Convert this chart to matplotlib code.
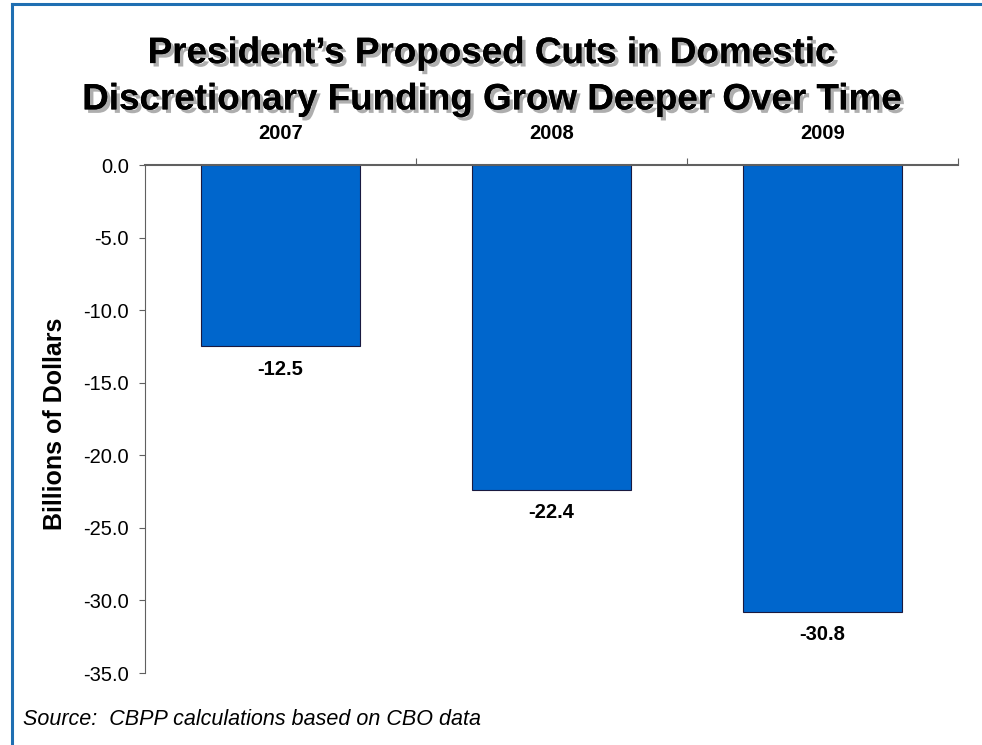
import matplotlib
matplotlib.use("Agg")
import matplotlib.pyplot as plt
import matplotlib.patheffects as pe
from matplotlib.lines import Line2D

plt.rcParams["font.family"] = ["Liberation Sans", "DejaVu Sans"]

# data
years = ["2007", "2008", "2009"]
cuts = [-12.5, -22.4, -30.8]
yticks = [0, -5, -10, -15, -20, -25, -30, -35]

fig = plt.figure(figsize=(9.82, 7.45), dpi=100)
ax = fig.add_axes([0.1477, 0.0966, 0.828, 0.6819])

x = range(len(years))
ax.bar(x, cuts, width=0.587, color="#0066CC", edgecolor="#1a1a40", linewidth=0.8, zorder=2)

for xi, v in zip(x, cuts):
    ax.text(xi, v - 0.9, f"{v:.1f}", ha="center", va="top", fontsize=14.5, fontweight="bold")

ax.set_xlim(-0.5, 2.5)
ax.set_ylim(-35, 0)
ax.set_yticks(yticks)
ax.set_yticklabels([f"{t:.1f}" for t in yticks], fontsize=14.5)
ax.tick_params(axis="y", direction="out", length=4.5, color="#606060", pad=7)

# category labels on top, tick marks between categories
ax.xaxis.tick_top()
ax.set_xticks([0.5, 1.5, 2.5])
ax.set_xticklabels([])
ax.set_xticks(list(x), minor=True)
ax.set_xticklabels(years, minor=True, fontsize=14.5, fontweight="bold")
ax.tick_params(axis="x", which="major", direction="out", length=5, color="#606060")
ax.tick_params(axis="x", which="minor", length=0, pad=16)

for s in ["right", "bottom"]:
    ax.spines[s].set_visible(False)
ax.spines["left"].set_color("#606060")
ax.spines["top"].set_color("#606060")
ax.spines["top"].set_linewidth(1.5)

ax.set_ylabel("Billions of Dollars", fontsize=18, fontweight="bold")
ax.yaxis.set_label_coords(-0.096, 0.49)

title = "President\u2019s Proposed Cuts in Domestic\nDiscretionary Funding Grow Deeper Over Time"
fig.text(0.5, 0.897, title, ha="center", va="center", fontsize=26.5, fontweight="bold",
         linespacing=1.42,
         path_effects=[pe.withSimplePatchShadow(offset=(2.5, -2.5), shadow_rgbFace="#9a9a9a", alpha=0.8), pe.Normal()])

fig.text(0.0235, 0.034, "Source:  CBPP calculations based on CBO data", fontsize=15.5, style="italic", va="center")

# blue frame on top and left
fig.add_artist(Line2D([0.012, 1.0], [0.9945, 0.9945], color="#1f6fb2", lw=2.2, transform=fig.transFigure))
fig.add_artist(Line2D([0.012, 0.012], [0.0, 0.9945], color="#1f6fb2", lw=2.2, transform=fig.transFigure))

fig.savefig("out.png", dpi=100)
